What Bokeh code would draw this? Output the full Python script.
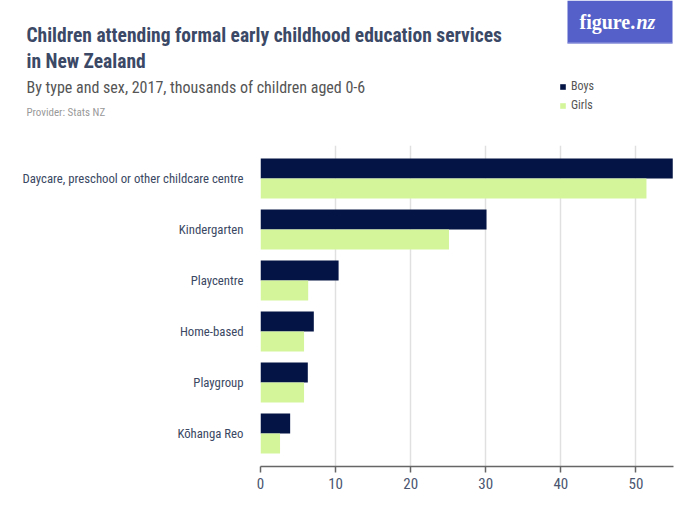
from bokeh.plotting import figure
from bokeh.layouts import column
from bokeh.models import (FactorRange, Range1d, ColumnDataSource, Label, BoxAnnotation,
                          Legend, LegendItem, FixedTicker)
from bokeh.transform import dodge
from bokeh.embed import file_html
from bokeh.resources import INLINE

categories = ["Daycare, preschool or other childcare centre", "Kindergarten", "Playcentre",
              "Home-based", "Playgroup", "Kōhanga Reo"]
boys = [54.9, 30.1, 10.4, 7.1, 6.3, 3.95]
girls = [51.4, 25.1, 6.35, 5.8, 5.8, 2.6]
x_ticks = [0, 10, 20, 30, 40, 50]
series = ["Boys", "Girls"]

BOYS_C = "#041545"
GIRLS_C = "#d4f59a"
FONT = "Roboto Condensed"
DARK = "#3b4866"

# ---------- header ----------
h = figure(width=700, height=145, output_backend="svg", toolbar_location=None,
           x_range=Range1d(0, 700), y_range=Range1d(145, 0),
           x_axis_type=None, y_axis_type=None, min_border=0)
h.outline_line_color = None
h.grid.grid_line_color = None
h.background_fill_color = "white"
h.border_fill_color = "white"
h.frame_align = False

def lab(text, x, y, size, color, style="normal", font=FONT, align="left"):
    h.add_layout(Label(x=x, y=y, text=text, text_font=font, text_font_size=size,
                       text_color=color, text_font_style=style,
                       text_baseline="alphabetic", text_align=align))

lab("Children attending formal early childhood education services", 26, 35, "19.5px", DARK, "bold")
lab("in New Zealand", 26, 61, "19.5px", DARK, "bold")
lab("By type and sex, 2017, thousands of children aged 0-6", 26, 87, "16px", "#555555")
lab("Provider: Stats NZ", 26, 112, "11px", "#999999")

h.add_layout(BoxAnnotation(left=567, right=672, top=0, bottom=43,
                           fill_color="#5561c8", fill_alpha=1, line_color=None))
h.add_layout(BoxAnnotation(left=567, right=672, top=42, bottom=43,
                           fill_color="#9aa0e0", fill_alpha=1, line_color=None))
lab("figure.", 579, 21, "20px", "white", "bold", font="Liberation Serif")
lab("nz", 636, 21, "20px", "white", "bold italic", font="Liberation Serif")

# legend proxies (zero-size, only used for the legend swatches)
proxy = ColumnDataSource(dict(y=[0], left=[0], right=[0]))
lb = h.hbar(y="y", left="left", right="right", height=0, source=proxy, fill_color=BOYS_C, line_color=None)
lg = h.hbar(y="y", left="left", right="right", height=0, source=proxy, fill_color=GIRLS_C, line_color=None)
legend = Legend(items=[LegendItem(label=series[0], renderers=[lb]),
                       LegendItem(label=series[1], renderers=[lg])],
                location=(559, 33), orientation="vertical",
                glyph_width=7, glyph_height=7, label_height=14, spacing=5,
                padding=0, margin=0, label_standoff=5,
                border_line_color=None, background_fill_alpha=0,
                label_text_font=FONT, label_text_font_size="12px", label_text_color="#555555")
h.add_layout(legend, "center")

# ---------- main chart ----------
src = ColumnDataSource(dict(cat=categories, boys=boys, girls=girls))
p = figure(width=700, height=380, output_backend="svg", toolbar_location=None,
           y_range=FactorRange(factors=list(reversed(categories)), range_padding=0.147,
                               range_padding_units="absolute"),
           x_range=Range1d(0, 55),
           min_border_left=260, min_border_right=27, min_border_top=0, min_border_bottom=59)
p.outline_line_color = None
p.background_fill_color = "white"
p.border_fill_color = "white"
p.frame_align = False

p.hbar(y=dodge("cat", 0.196, range=p.y_range), right="boys", left=0, height=0.392,
       source=src, fill_color=BOYS_C, line_color=None)
p.hbar(y=dodge("cat", -0.196, range=p.y_range), right="girls", left=0, height=0.392,
       source=src, fill_color=GIRLS_C, line_color=None)

p.xgrid.grid_line_color = "#e0e0e0"
p.xgrid.grid_line_width = 1.5
p.ygrid.grid_line_color = None
p.xaxis.ticker = FixedTicker(ticks=x_ticks)
p.xaxis.axis_line_color = "#666666"
p.xaxis.axis_line_width = 1.5
p.xaxis.major_tick_line_color = "#666666"
p.xaxis.major_tick_line_width = 1.5
p.xaxis.major_tick_out = 6
p.xaxis.major_tick_in = 0
p.xaxis.minor_tick_line_color = None
p.xaxis.major_label_text_font = FONT
p.xaxis.major_label_text_font_size = "15px"
p.xaxis.major_label_text_color = "#4a5670"
p.xaxis.major_label_standoff = 5

p.yaxis.axis_line_color = None
p.yaxis.major_tick_line_color = None
p.yaxis.minor_tick_line_color = None
p.yaxis.major_label_standoff = 11
p.yaxis.major_label_text_font = FONT
p.yaxis.major_label_text_font_size = "12.75px"
p.yaxis.major_label_text_color = "#3b4863"

layout = column(h, p, spacing=0)
open("out.html", "w").write(file_html(layout, INLINE))
